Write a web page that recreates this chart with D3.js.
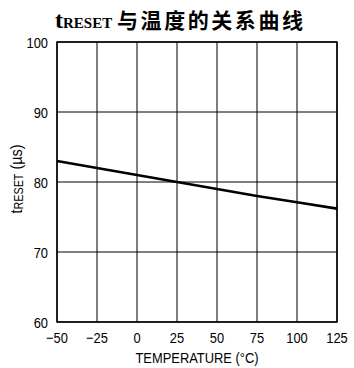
<!DOCTYPE html>
<html>
<head>
<meta charset="utf-8">
<script src="https://cdn.jsdelivr.net/npm/d3@7"></script>
<style>
  html, body { margin: 0; padding: 0; background: #fff; }
  svg { display: block; }
</style>
</head>
<body>
<script>
// Reset timeout vs. temperature
const temperatures = [-50, -25, 0, 25, 50, 75, 100, 125];
const tReset = [83.0, 82.0, 81.0, 80.0, 79.0, 78.0, 77.1, 76.2];
const xTicks = [-50, -25, 0, 25, 50, 75, 100, 125];
const yTicks = [60, 70, 80, 90, 100];

const W = 354, H = 368;
const m = { left: 57, right: 17, top: 42, bottom: 46 };
const sans = '"Liberation Sans", Arial, sans-serif';
const serif = '"Liberation Serif", "Times New Roman", serif';
const squeeze = 0.86; // condensed look for axis text

const svg = d3.select("body").append("svg").attr("width", W).attr("height", H);

const x = d3.scaleLinear().domain([-50, 125]).range([m.left, W - m.right]);
const y = d3.scaleLinear().domain([60, 100]).range([H - m.bottom, m.top]);

// grid
const g = svg.append("g");
g.selectAll(".vx").data(xTicks).join("line")
  .attr("x1", d => x(d)).attr("x2", d => x(d))
  .attr("y1", y(60)).attr("y2", y(100))
  .attr("stroke", "#000").attr("stroke-width", 1);
g.selectAll(".hy").data(yTicks).join("line")
  .attr("x1", x(-50)).attr("x2", x(125))
  .attr("y1", d => y(d)).attr("y2", d => y(d))
  .attr("stroke", "#000").attr("stroke-width", 1);

// frame
svg.append("rect")
  .attr("x", x(-50)).attr("y", y(100))
  .attr("width", x(125) - x(-50)).attr("height", y(60) - y(100))
  .attr("fill", "none").attr("stroke", "#000").attr("stroke-width", 1.5);

// tick labels (drawn from the scales, horizontally condensed)
const fmt = d => d < 0 ? "\u2212" + Math.abs(d) : String(d);
svg.append("g").selectAll("text").data(xTicks).join("text")
  .attr("transform", d => `translate(${x(d)},${y(60) + 21}) scale(${squeeze},1)`)
  .attr("text-anchor", "middle")
  .attr("font-family", sans).attr("font-size", 15)
  .text(fmt);
svg.append("g").selectAll("text").data(yTicks).join("text")
  .attr("transform", d => `translate(${x(-50) - 9},${y(d) + 5.5}) scale(${squeeze},1)`)
  .attr("text-anchor", "end")
  .attr("font-family", sans).attr("font-size", 15)
  .text(fmt);

// data curve
svg.append("path")
  .datum(temperatures.map((t, i) => [t, tReset[i]]))
  .attr("fill", "none").attr("stroke", "#000").attr("stroke-width", 2.6)
  .attr("stroke-linejoin", "round")
  .attr("d", d3.line().x(d => x(d[0])).y(d => y(d[1])));

// axis titles
svg.append("text")
  .attr("transform", `translate(${(x(-50) + x(125)) / 2},363) scale(${squeeze},1)`)
  .attr("text-anchor", "middle")
  .attr("font-family", sans).attr("font-size", 15)
  .text("TEMPERATURE (°C)");

const yl = svg.append("text")
  .attr("transform", `translate(22,179) rotate(-90) scale(${squeeze + 0.04},1)`)
  .attr("text-anchor", "middle")
  .attr("font-family", sans).attr("font-size", 16);
yl.append("tspan").text("t");
yl.append("tspan").attr("font-size", 12).attr("dy", 1).text("RESET");
yl.append("tspan").attr("dy", -1).text(" (µs)");

// chart title
const title = svg.append("text")
  .attr("x", 55).attr("y", 28)
  .attr("text-anchor", "start")
  .attr("font-weight", "bold");
title.append("tspan").attr("font-family", serif).attr("font-size", 24).text("t");
title.append("tspan").attr("font-family", serif).attr("font-size", 15).text("RESET");

svg.append("text")
  .attr("x", 117).attr("y", 28)
  .attr("font-weight", "bold")
  .attr("font-family", '"Noto Sans CJK SC", sans-serif').attr("font-size", 21)
  .attr("textLength", 186).attr("lengthAdjust", "spacing")
  .text("与温度的关系曲线");
</script>
</body>
</html>
